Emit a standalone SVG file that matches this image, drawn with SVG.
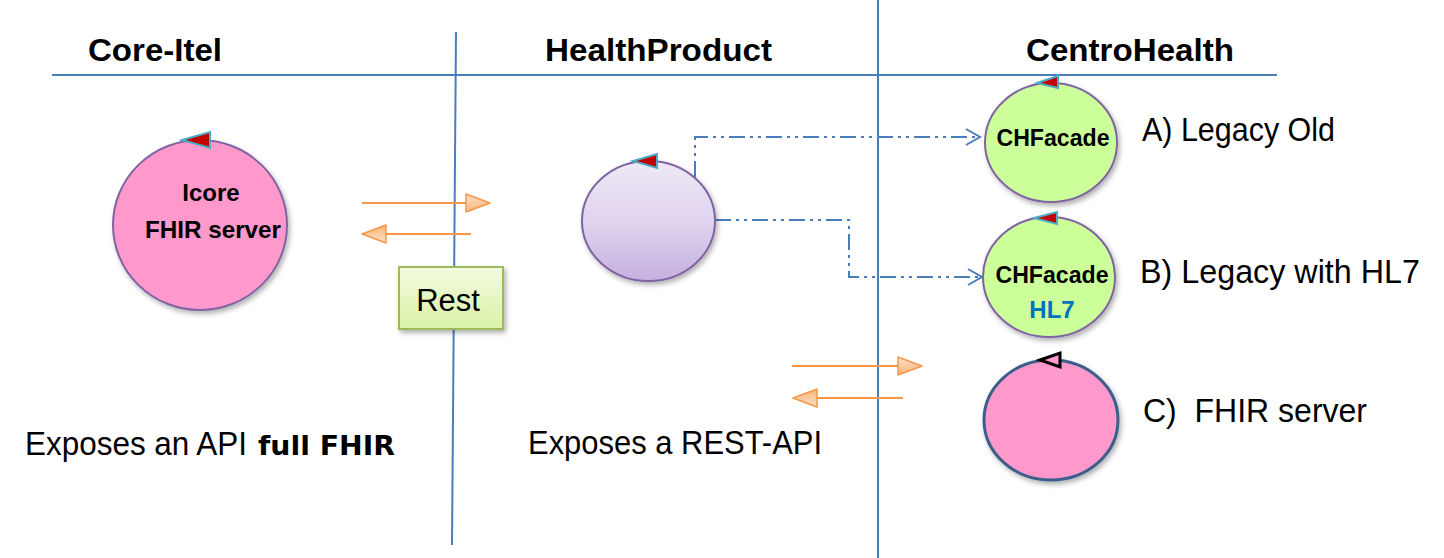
<svg xmlns="http://www.w3.org/2000/svg" width="1444" height="558" viewBox="0 0 1444 558">
<style>
.grid{stroke:#4a7ebb;stroke-width:2;fill:none}
.head{font-family:"Liberation Sans",Arial,sans-serif;font-weight:bold;font-size:32px;fill:#000}
.lbl{font-family:"Liberation Sans",Arial,sans-serif;font-size:33px;fill:#000}
.nt{font-family:"Liberation Sans",Arial,sans-serif;font-weight:bold;font-size:24px;fill:#000;text-anchor:middle}
.conn{stroke:#4a7ebb;stroke-width:2;fill:none;stroke-dasharray:16 5 3 5 3 5}
.oarr{stroke:#f79646;stroke-width:2;fill:none}
.tri{fill:#c00000;stroke:#4bacc6;stroke-width:2}
.nodeP{stroke:#8064a2;stroke-width:2}
</style>
<defs>
<linearGradient id="gPurple" x1="0" y1="0" x2="0" y2="1">
<stop offset="0" stop-color="#eee9f6"/>
<stop offset="0.5" stop-color="#e0d4ee"/>
<stop offset="1" stop-color="#c5b0de"/>
</linearGradient>
<linearGradient id="gRest" x1="0" y1="0" x2="0" y2="1">
<stop offset="0" stop-color="#f2fadf"/>
<stop offset="1" stop-color="#d9f2a6"/>
</linearGradient>
<linearGradient id="gOr" x1="0" y1="0" x2="0" y2="1">
<stop offset="0" stop-color="#fde0c6"/>
<stop offset="1" stop-color="#f9b57c"/>
</linearGradient>
<filter id="sh" x="-20%" y="-20%" width="140%" height="140%">
<feDropShadow dx="2" dy="3" stdDeviation="2.5" flood-color="#000" flood-opacity="0.3"/>
</filter>
<marker id="openArr" markerUnits="userSpaceOnUse" markerWidth="18" markerHeight="20" refX="15" refY="9" orient="auto">
<path d="M1,1 L15,9 L1,17" fill="none" stroke="#4a7ebb" stroke-width="2"/>
</marker>
<marker id="orArr" markerUnits="userSpaceOnUse" markerWidth="28" markerHeight="22" refX="25" refY="10" orient="auto">
<path d="M1,1 L25,10 L1,19 Z" fill="url(#gOr)" stroke="#f79646" stroke-width="1.5" stroke-linejoin="round"/>
</marker>
</defs>
<rect width="1444" height="558" fill="#fff"/>

<g id="gridlines">
<line class="grid" x1="52" y1="75" x2="1277" y2="75"/>
<line class="grid" x1="456" y1="32" x2="452" y2="545"/>
<line class="grid" x1="878" y1="0" x2="878" y2="558"/>
</g>

<g id="headings">
<text class="head" x="88" y="61" textLength="134" lengthAdjust="spacingAndGlyphs">Core-Itel</text>
<text class="head" x="545" y="61" textLength="227" lengthAdjust="spacingAndGlyphs">HealthProduct</text>
<text class="head" x="1026" y="61" textLength="208" lengthAdjust="spacingAndGlyphs">CentroHealth</text>
</g>

<g id="connectors">
<line class="oarr" x1="362" y1="203" x2="490" y2="203" marker-end="url(#orArr)"/>
<line class="oarr" x1="471" y1="234" x2="362" y2="234" marker-end="url(#orArr)"/>
<line class="oarr" x1="792" y1="366" x2="922" y2="366" marker-end="url(#orArr)"/>
<line class="oarr" x1="903" y1="398" x2="793" y2="398" marker-end="url(#orArr)"/>
<path class="conn" d="M695,177 L695,137 L980,137" marker-end="url(#openArr)"/>
<path class="conn" d="M715,220 L849,220 L849,277 L982,277" marker-end="url(#openArr)"/>
</g>

<g id="icore">
<ellipse class="nodeP" cx="200" cy="225" rx="87" ry="85" fill="#ff99cc" filter="url(#sh)"/>
<polygon class="tri" points="182,140 210,132 210,148"/>
<text class="nt" x="211" y="201">Icore</text>
<text class="nt" x="213" y="238" textLength="136" lengthAdjust="spacingAndGlyphs">FHIR server</text>
</g>

<g id="rest">
<rect x="399" y="267" width="104" height="62" fill="url(#gRest)" stroke="#9bbb59" stroke-width="2" filter="url(#sh)"/>
<text x="448" y="311" text-anchor="middle" style="font-family:'Liberation Sans',Arial,sans-serif;font-size:31px;fill:#000">Rest</text>
</g>

<g id="healthproduct">
<ellipse class="nodeP" cx="648.5" cy="221" rx="66.5" ry="60" fill="url(#gPurple)" filter="url(#sh)"/>
<polygon class="tri" points="633,161 657,154 657,168"/>
</g>

<g id="chfacade-a">
<ellipse class="nodeP" cx="1051" cy="142.5" rx="66" ry="59.5" fill="#ccff99" filter="url(#sh)"/>
<polygon class="tri" points="1037,83 1058,76 1058,88"/>
<text class="nt" x="1053" y="146" textLength="113" lengthAdjust="spacingAndGlyphs">CHFacade</text>
</g>

<g id="chfacade-b">
<ellipse class="nodeP" cx="1049" cy="277" rx="66" ry="60" fill="#ccff99" filter="url(#sh)"/>
<polygon class="tri" points="1034,218 1057,212 1057,224"/>
<text class="nt" x="1052" y="283" textLength="113" lengthAdjust="spacingAndGlyphs">CHFacade</text>
<text class="nt" x="1052" y="318" style="fill:#0070c0">HL7</text>
</g>

<g id="fhir-server">
<ellipse cx="1051" cy="420" rx="67" ry="60" fill="#ff99cc" stroke="#3b5f8a" stroke-width="3" filter="url(#sh)"/>
<polygon points="1040,360 1060,353 1060,367" fill="#ff99cc" stroke="#000" stroke-width="3" stroke-linejoin="miter"/>
</g>

<g id="labels">
<text class="lbl" x="1142" y="141" textLength="193" lengthAdjust="spacingAndGlyphs">A) Legacy Old</text>
<text class="lbl" x="1140" y="283" textLength="280" lengthAdjust="spacingAndGlyphs">B) Legacy with HL7</text>
<text class="lbl" x="1143" y="422" textLength="224" lengthAdjust="spacingAndGlyphs" xml:space="preserve">C)  FHIR server</text>
<text class="lbl" x="25" y="455" textLength="222" lengthAdjust="spacingAndGlyphs">Exposes an API</text>
<text x="258" y="455" textLength="137" lengthAdjust="spacingAndGlyphs" style="font-family:'DejaVu Sans','Liberation Sans',sans-serif;font-weight:900;font-size:26px;fill:#000">full FHIR</text>
<text class="lbl" x="528" y="454" textLength="294" lengthAdjust="spacingAndGlyphs">Exposes a REST-API</text>
</g>
</svg>
